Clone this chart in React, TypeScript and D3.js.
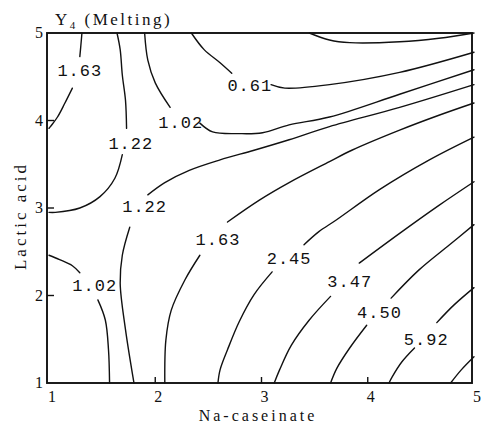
import * as d3 from "d3";

type Pt = [number, number];

// axis ticks
const xTicks = [1, 2, 3, 4, 5];
const yTicks = [1, 2, 3, 4, 5];

// contour lines, [Na-caseinate, Lactic acid], split where the label sits
const c020: Pt[][] = [
  [[3.45, 5.0], [3.64, 4.92], [3.83, 4.89], [4.3, 4.9], [4.67, 4.94], [5.0, 5.0]],
];
const c061: Pt[][] = [
  [[2.34, 5.0], [2.46, 4.81], [2.61, 4.66], [2.72, 4.54]],
  [[3.09, 4.41], [3.22, 4.37], [3.64, 4.41], [4.3, 4.55], [5.0, 4.78]],
];
const c102top: Pt[][] = [
  [[1.9, 5.0], [1.93, 4.69], [2.0, 4.43], [2.14, 4.15]],
  [[2.42, 3.97], [2.54, 3.87], [2.79, 3.85], [3.01, 3.86], [3.26, 3.95], [3.64, 4.04], [4.3, 4.3], [5.0, 4.58]],
];
const c102low: Pt[][] = [
  [[1.0, 2.46], [1.1, 2.41], [1.22, 2.34], [1.29, 2.26]],
  [[1.46, 1.95], [1.53, 1.72], [1.56, 1.38], [1.57, 1.0]],
];
const c122top: Pt[][] = [
  [[1.64, 5.0], [1.67, 4.81], [1.69, 4.52], [1.72, 4.23], [1.73, 3.91]],
  [[1.69, 3.61], [1.62, 3.34], [1.48, 3.13], [1.29, 3.0], [1.06, 2.95], [1.0, 2.95]],
];
const c122low: Pt[][] = [
  [[1.8, 1.0], [1.79, 1.07], [1.72, 1.61], [1.67, 2.14], [1.69, 2.46], [1.76, 2.78]],
  [[1.93, 3.15], [2.09, 3.29], [2.32, 3.43], [2.61, 3.55], [2.93, 3.66], [3.26, 3.78], [3.64, 3.93], [4.3, 4.15], [5.0, 4.41]],
];
const c163top: Pt[][] = [
  [[1.31, 5.0], [1.3, 4.86], [1.29, 4.73]],
  [[1.22, 4.37], [1.15, 4.2], [1.08, 4.04], [1.0, 3.91]],
];
const c163low: Pt[][] = [
  [[2.09, 1.0], [2.1, 1.49], [2.15, 1.83], [2.28, 2.18], [2.42, 2.46]],
  [[2.68, 2.84], [2.98, 3.09], [3.26, 3.29], [3.64, 3.53], [3.85, 3.66], [4.3, 3.89], [4.67, 4.06], [5.0, 4.2]],
];
const c245: Pt[][] = [
  [[2.59, 1.0], [2.61, 1.15], [2.68, 1.38], [2.79, 1.7], [2.93, 2.01], [3.1, 2.27]],
  [[3.4, 2.58], [3.54, 2.73], [3.7, 2.86], [4.11, 3.21], [4.58, 3.55], [5.0, 3.81]],
];
const c347: Pt[][] = [
  [[3.12, 1.0], [3.17, 1.15], [3.28, 1.43], [3.45, 1.72], [3.65, 1.99]],
  [[3.92, 2.37], [4.3, 2.71], [4.67, 3.03], [5.0, 3.3]],
];
const c450: Pt[][] = [
  [[3.65, 1.0], [3.71, 1.17], [3.83, 1.4], [3.99, 1.66]],
  [[4.22, 1.97], [4.48, 2.29], [4.77, 2.58], [5.0, 2.81]],
];
const c592: Pt[][] = [
  [[4.2, 1.0], [4.23, 1.07], [4.32, 1.24], [4.44, 1.4]],
  [[4.65, 1.69], [4.81, 1.89], [5.0, 2.09]],
];
const c700: Pt[][] = [
  [[4.78, 1.0], [4.88, 1.15], [5.0, 1.3]],
];

const allLines = [c020, c061, c102top, c102low, c122top, c122low, c163top, c163low, c245, c347, c450, c592, c700];

// contour labels
const labelText = ["1.63", "1.22", "1.02", "0.61", "1.22", "1.02", "1.63", "2.45", "3.47", "4.50", "5.92"];
const labelPos: Pt[] = [
  [1.29, 4.58], [1.77, 3.74], [2.24, 3.98], [2.89, 4.41], [1.9, 3.02],
  [1.43, 2.12], [2.59, 2.65], [3.26, 2.43], [3.83, 2.17], [4.11, 1.81], [4.55, 1.5],
];

const W = 481;
const H = 425;

export default function App() {
  const x = d3.scaleLinear().domain([1, 5]).range([49, 474]);
  const y = d3.scaleLinear().domain([1, 5]).range([383, 33]);
  const line = d3
    .line<Pt>()
    .x((d) => x(d[0]))
    .y((d) => y(d[1]))
    .curve(d3.curveCatmullRom.alpha(0.5));

  const serif = "'Liberation Serif', 'DejaVu Serif', serif";
  const mono = "'Liberation Mono', 'DejaVu Sans Mono', monospace";

  return (
    <svg width={W} height={H} style={{ position: "absolute", left: 0, top: 0, background: "#fff" }}>
      {/* contours */}
      <g fill="none" stroke="#111" strokeWidth={1.4} strokeLinecap="round">
        {allLines.map((segs, i) =>
          segs.map((s, j) => <path key={i + "-" + j} d={line(s) || ""} />)
        )}
      </g>

      {/* frame */}
      <rect
        x={x(1) - 2}
        y={y(5)}
        width={x(5) - x(1)}
        height={y(1) - y(5)}
        fill="none"
        stroke="#111"
        strokeWidth={1.9}
      />

      {/* ticks */}
      <g stroke="#111" strokeWidth={1.4}>
        {xTicks.slice(1, -1).map((t) => (
          <line key={"xt" + t} x1={x(t)} x2={x(t)} y1={y(1)} y2={y(1) - 6} />
        ))}
        {yTicks.slice(1, -1).map((t) => (
          <line key={"yt" + t} x1={x(1) - 2} x2={x(1) + 5} y1={y(t)} y2={y(t)} />
        ))}
      </g>

      <g fontFamily={serif} fontSize={16} fill="#111">
        {xTicks.map((t) => (
          <text key={"xl" + t} x={x(t) + 3} y={y(1) + 19} textAnchor="middle">
            {t}
          </text>
        ))}
        {yTicks.map((t) => (
          <text key={"yl" + t} x={x(1) - 6} y={y(t) + 5} textAnchor="end">
            {t}
          </text>
        ))}
      </g>

      {/* contour labels */}
      <g fontFamily={mono} fontSize={17} fill="#111" letterSpacing={1}>
        {labelText.map((t, i) => (
          <text key={"cl" + i} x={x(labelPos[i][0])} y={y(labelPos[i][1])} dy="0.35em" textAnchor="middle">
            {t}
          </text>
        ))}
      </g>

      {/* titles */}
      <text x={55} y={25} fontFamily={serif} fontSize={17} letterSpacing={2.5} fill="#111">
        Y
        <tspan fontSize={11} dy={4}>4</tspan>
        <tspan dy={-4}> (Melting)</tspan>
      </text>
      <text
        transform={`translate(26, 216) rotate(-90)`}
        textAnchor="middle"
        fontFamily={serif}
        fontSize={17}
        letterSpacing={3}
        fill="#111"
      >
        Lactic acid
      </text>
      <text x={258} y={421} textAnchor="middle" fontFamily={serif} fontSize={16} letterSpacing={3}
        fill="#111">
        Na-caseinate
      </text>
    </svg>
  );
}
